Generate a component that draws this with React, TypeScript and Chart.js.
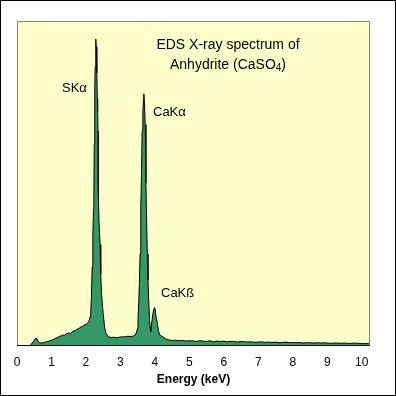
import React, { useEffect, useRef } from "react";
import { Chart, registerables } from "chart.js";

Chart.register(...registerables);

// ---- Data (energy in keV, intensity in % of full scale) ----
const xTickValues = [0, 1, 2, 3, 4, 5, 6, 7, 8, 9, 10];
const xTickLabels = ["0", "1", "2", "3", "4", "5", "6", "7", "8", "9", "10"];

const lowEnergy = [0.40, 0.44, 0.48, 0.52, 0.55, 0.58, 0.62, 0.66, 0.72, 0.80, 0.88, 0.96, 1.04, 1.10, 1.16, 1.22, 1.28, 1.33, 1.38, 1.44, 1.50, 1.55, 1.60, 1.65, 1.70, 1.75, 1.80, 1.85, 1.90, 1.95, 2.00, 2.04, 2.08];
const lowCounts = [0, 0.6, 1.2, 1.8, 2.2, 1.9, 1.0, 0.7, 0.6, 0.8, 1.1, 1.3, 1.6, 2.0, 2.2, 2.6, 2.8, 3.1, 3.0, 3.5, 3.7, 3.6, 4.1, 4.3, 4.5, 4.9, 5.1, 5.6, 5.7, 6.2, 6.3, 6.7, 7.1];

const sPeakEnergy = [2.10, 2.12, 2.14, 2.16, 2.18, 2.20, 2.22, 2.23, 2.24, 2.25, 2.26, 2.27, 2.28, 2.29, 2.30, 2.31, 2.32, 2.33, 2.34, 2.35, 2.36, 2.38, 2.41, 2.43, 2.45, 2.48, 2.50, 2.54, 2.58, 2.65, 2.72, 2.80, 2.90, 3.00, 3.10, 3.20, 3.30, 3.38];
const sPeakCounts = [7.8, 8.7, 11, 15, 24, 34, 42, 46, 62, 74, 80, 86, 90, 94.4, 92, 88, 84, 76, 72, 66, 46, 38, 31, 22, 16, 12, 9.8, 5.5, 3.6, 2.6, 2.3, 2.4, 2.2, 2.5, 2.5, 2.7, 2.6, 2.8];

const caPeakEnergy = [3.43, 3.47, 3.49, 3.51, 3.53, 3.55, 3.57, 3.59, 3.61, 3.63, 3.65, 3.67, 3.68, 3.70, 3.72, 3.74, 3.76, 3.78, 3.80, 3.82, 3.84, 3.86, 3.88, 3.91, 3.94, 3.97, 4.00, 4.03, 4.07, 4.10, 4.14, 4.20, 4.26, 4.32];
const caPeakCounts = [3.0, 4.0, 5.0, 8, 13, 19, 28, 42, 52, 66, 72, 76, 77.5, 74, 68, 50, 38, 28, 20, 14, 9, 5.5, 4.2, 7, 9.5, 11.2, 11.5, 9, 6.8, 4.5, 3.1, 2.7, 2.3, 1.8];

const tailEnergy = [4.4, 4.5, 4.6, 4.7, 4.8, 4.9, 5.0, 5.1, 5.2, 5.3, 5.4, 5.5, 5.6, 5.7, 5.8, 5.9, 6.0, 6.1, 6.2, 6.3, 6.4, 6.5, 6.6, 6.7, 6.8, 6.9, 7.0, 7.1, 7.2, 7.3, 7.4, 7.5, 7.6, 7.7, 7.8, 7.9, 8.0, 8.1, 8.2, 8.3, 8.4, 8.5, 8.6, 8.7, 8.8, 8.9, 9.0, 9.1, 9.2, 9.3, 9.4, 9.5, 9.6, 9.7, 9.8, 9.9, 10.0, 10.1, 10.2, 10.24];
const tailCounts = [1.6, 1.4, 1.5, 1.3, 1.4, 1.2, 1.3, 1.3, 1.1, 1.3, 1.2, 1.1, 1.3, 1.0, 1.2, 1.1, 1.2, 1.0, 1.1, 1.1, 0.9, 1.1, 1.0, 0.9, 1.0, 0.8, 0.9, 1.0, 0.8, 0.9, 0.8, 0.9, 0.7, 0.8, 0.9, 0.7, 0.8, 0.7, 0.8, 0.6, 0.7, 0.7, 0.6, 0.7, 0.6, 0.7, 0.6, 0.5, 0.6, 0.6, 0.5, 0.6, 0.5, 0.5, 0.6, 0.5, 0.5, 0.4, 0.5, 0.4];

const peakLabels = ["SKα", "CaKα", "CaKß"];
const titleLine1 = "EDS X-ray spectrum of";
const titleLine2 = ["Anhydrite (CaSO", "4", ")"];
const xAxisTitle = "Energy (keV)";

// ---- Styles / placement (pixels) ----
const FONT = '"Liberation Sans", Arial, Helvetica, sans-serif';
const labelPlacement = [
  { x: 62, y: 88 },
  { x: 153, y: 112 },
  { x: 161, y: 293 },
];

function buildPoints() {
  const e = [...lowEnergy, ...sPeakEnergy, ...caPeakEnergy, ...tailEnergy];
  const c = [...lowCounts, ...sPeakCounts, ...caPeakCounts, ...tailCounts];
  return e.map((x, i) => ({ x, y: c[i] }));
}

const framePlugin = {
  id: "frame",
  beforeDraw(chart: any) {
    const { ctx, chartArea } = chart;
    const { left, top, right, bottom } = chartArea;
    ctx.save();
    ctx.fillStyle = "#ffffff";
    ctx.fillRect(0, 0, chart.width, chart.height);
    ctx.strokeStyle = "#000000";
    ctx.lineWidth = 1;
    ctx.strokeRect(0.5, 0.5, chart.width - 1, chart.height - 1);
    ctx.fillStyle = "#FFFFCC";
    ctx.fillRect(left, top, right - left, bottom - top);
    ctx.restore();
  },
  afterDatasetsDraw(chart: any) {
    const { ctx, chartArea } = chart;
    const { left, top, right, bottom } = chartArea;
    ctx.save();
    ctx.lineWidth = 1;
    ctx.strokeStyle = "#808080";
    ctx.beginPath();
    ctx.moveTo(left + 0.5, bottom);
    ctx.lineTo(left + 0.5, top + 0.5);
    ctx.lineTo(right - 0.5, top + 0.5);
    ctx.lineTo(right - 0.5, bottom);
    ctx.stroke();
    ctx.strokeStyle = "#000000";
    ctx.beginPath();
    ctx.moveTo(left, bottom + 0.5);
    ctx.lineTo(right, bottom + 0.5);
    ctx.stroke();

    ctx.fillStyle = "#000000";
    ctx.textBaseline = "middle";
    ctx.font = `13px ${FONT}`;
    ctx.textAlign = "left";
    peakLabels.forEach((t, i) => {
      ctx.fillText(t, labelPlacement[i].x, labelPlacement[i].y);
    });

    // title
    ctx.font = `14px ${FONT}`;
    ctx.textAlign = "center";
    const cx = 228;
    ctx.fillText(titleLine1, cx, 45);
    const mainFont = `14px ${FONT}`;
    const subFont = `10px ${FONT}`;
    ctx.font = mainFont;
    const w0 = ctx.measureText(titleLine2[0]).width;
    const w2 = ctx.measureText(titleLine2[2]).width;
    ctx.font = subFont;
    const w1 = ctx.measureText(titleLine2[1]).width;
    let x = cx - (w0 + w1 + w2) / 2;
    ctx.textAlign = "left";
    ctx.font = mainFont;
    ctx.fillText(titleLine2[0], x, 65);
    x += w0;
    ctx.font = subFont;
    ctx.fillText(titleLine2[1], x, 68);
    x += w1;
    ctx.font = mainFont;
    ctx.fillText(titleLine2[2], x, 65);
    ctx.restore();
  },
};

export default function App() {
  const ref = useRef<HTMLCanvasElement>(null);
  useEffect(() => {
    if (!ref.current) return;
    const chart = new Chart(ref.current, {
      type: "line",
      data: {
        datasets: [
          {
            data: buildPoints(),
            borderColor: "#000000",
            borderWidth: 1,
            backgroundColor: "#339966",
            fill: "origin",
            pointRadius: 0,
            tension: 0,
          },
        ],
      },
      options: {
        animation: false,
        responsive: false,
        devicePixelRatio: 1,
        layout: { padding: { left: 17, top: 21, right: 26, bottom: 0 } },
        plugins: {
          legend: { display: false },
          tooltip: { enabled: false },
          title: { display: false },
        },
        scales: {
          x: {
            type: "linear",
            min: 0,
            max: 10.24,
            grid: { display: false, drawTicks: false },
            border: { display: false },
            afterBuildTicks: (scale: any) => {
              scale.ticks = xTickValues.map((v) => ({ value: v }));
            },
            afterFit: (scale: any) => {
              scale.height = 51;
            },
            ticks: {
              autoSkip: false,
              maxRotation: 0,
              padding: 10,
              color: "#000000",
              font: { family: FONT, size: 12 },
              callback: (v: any) => {
                const i = xTickValues.indexOf(Number(v));
                return i >= 0 ? xTickLabels[i] : "";
              },
            },
            title: {
              display: true,
              text: xAxisTitle,
              color: "#000000",
              font: { family: FONT, size: 12, weight: "bold" },
              padding: { top: 2, bottom: 9 },
            },
          },
          y: {
            display: false,
            min: 0,
            max: 100,
          },
        },
      },
      plugins: [framePlugin],
    });
    return () => chart.destroy();
  }, []);
  return (
    <div style={{ position: "fixed", left: 0, top: 0, width: 396, height: 396 }}>
      <canvas ref={ref} width={396} height={396} style={{ display: "block", width: 396, height: 396 }} />
    </div>
  );
}
